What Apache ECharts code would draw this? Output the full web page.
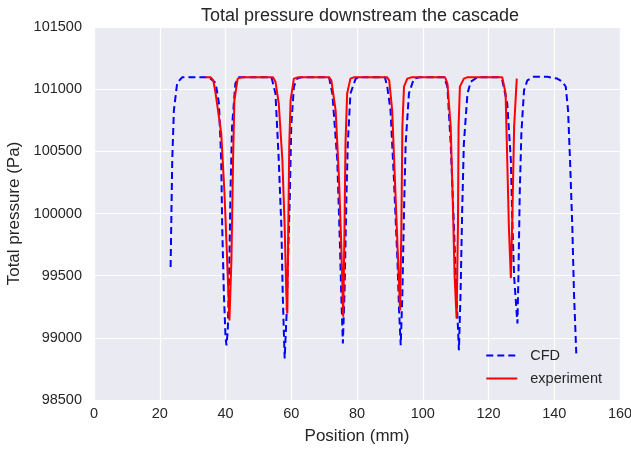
<!DOCTYPE html>
<html>
<head>
<meta charset="utf-8">
<script src="https://cdn.jsdelivr.net/npm/echarts@6/dist/echarts.min.js"></script>
<style>html,body{margin:0;padding:0;background:#fff;}#c{width:631px;height:449px;}</style>
</head>
<body>
<div id="c"></div>
<script>
const titleText = 'Total pressure downstream the cascade';
const xName = 'Position (mm)';
const yName = 'Total pressure (Pa)';
const seriesNames = ['CFD', 'experiment'];

const cfdX = [23.3,23.8,24.3,25.3,26.8,35.0,37.0,38.0,38.7,39.0,39.5,40.0,40.3,40.7,41.2,41.5,42.0,43.0,44.0,
  54.0,55.2,56.2,57.0,57.4,57.7,58.0,58.6,59.0,59.6,60.0,60.8,61.8,63.0,
  71.5,72.5,74.0,74.8,75.2,75.7,76.2,76.8,77.2,78.0,79.6,81.0,
  88.5,89.2,90.2,91.2,92.3,92.8,93.3,93.8,94.3,94.8,95.8,97.3,99.0,
  106.5,107.5,108.5,109.5,110.2,110.7,111.0,111.5,112.0,112.5,113.6,114.6,116.6,
  123.0,124.2,125.7,126.8,127.3,127.8,128.3,128.8,129.1,129.5,130.0,130.8,131.8,133.8,137.9,140.9,142.5,143.5,144.2,144.8,145.5,146.0,146.7];
const cfdY = [99570,100430,100830,101050,101095,101095,101050,100885,100430,99890,99360,99010,98940,99060,99625,100160,100700,101045,101095,
  101095,100965,100430,99890,99360,99090,98835,99200,99625,100160,100700,101020,101085,101095,
  101095,100965,100430,99760,99360,98955,99360,100160,100560,100965,101085,101095,
  101095,101020,100830,100295,99625,99220,98940,99360,100030,100560,100965,101085,101095,
  101095,101020,100560,99890,99360,99090,98900,99360,100030,100560,100965,101060,101095,
  101095,101070,100885,100430,99890,99490,99300,99115,99490,100160,100645,100990,101070,101100,101100,101085,101060,101020,100830,100430,99890,99360,98875];

const expX = [33.9,35.5,36.3,37.0,38.7,39.7,40.5,41.2,41.8,42.3,42.7,43.7,45.0,
  54.5,55.2,56.2,57.3,58.0,58.5,58.8,59.1,59.4,59.8,60.8,62.0,
  71.5,72.2,73.5,74.5,75.2,75.8,76.2,76.5,77.0,78.0,79.0,
  89.2,89.8,90.7,91.7,92.5,93.1,93.5,93.8,94.3,95.3,96.5,
  106.8,107.5,108.5,109.2,109.7,110.3,110.7,110.9,111.3,112.5,113.5,
  124.2,125.2,125.7,126.2,126.8,127.3,127.8,128.6];
const expY = [101095,101095,101070,100965,100645,100160,99625,99140,99625,100430,100910,101085,101095,
  101095,101060,100885,100430,99890,99360,99195,99890,100560,100910,101085,101095,
  101095,101070,100830,100295,99760,99170,99890,100560,100965,101085,101095,
  101095,101070,100830,100160,99625,99220,99890,100700,101020,101085,101095,
  101095,101045,100700,100030,99490,99155,99890,100700,101020,101085,101095,
  101095,100965,100430,99890,99480,100030,100700,101085];

const xMin = 0, xMax = 160, xStep = 20;
const yMin = 98500, yMax = 101500, yStep = 500;

const pair = (xs, ys) => xs.map((x, i) => [x, ys[i]]);
const txt = '#262626';
const font = 'Liberation Sans, Arial, sans-serif';

const chart = echarts.init(document.getElementById('c'), null, {renderer: 'canvas'});
chart.setOption({
  animation: false,
  backgroundColor: '#ffffff',
  title: {
    text: titleText, left: 355, top: 2, textAlign: 'center',
    textStyle: {fontFamily: font, fontSize: 18, fontWeight: 'normal', color: txt}
  },
  grid: {left: 94, right: 11, top: 27, bottom: 49, show: true, backgroundColor: '#EAEAF2', borderWidth: 0,
    containLabel: false, outerBoundsMode: 'none'},
  xAxis: {
    type: 'value', min: xMin, max: xMax, interval: xStep,
    name: xName, nameLocation: 'middle', nameGap: 28,
    nameTextStyle: {fontFamily: font, fontSize: 17, color: txt},
    axisLine: {show: false}, axisTick: {show: false},
    axisLabel: {fontFamily: font, fontSize: 14.5, color: txt, margin: 6},
    splitLine: {show: true, lineStyle: {color: '#ffffff', width: 1.2}}
  },
  yAxis: {
    type: 'value', min: yMin, max: yMax, interval: yStep,
    name: yName, nameLocation: 'middle', nameGap: 64, nameRotate: 90,
    nameTextStyle: {fontFamily: font, fontSize: 17, color: txt},
    axisLine: {show: false}, axisTick: {show: false},
    axisLabel: {fontFamily: font, fontSize: 14.5, color: txt, margin: 12, formatter: v => String(v)},
    splitLine: {show: true, lineStyle: {color: '#ffffff', width: 1.2}}
  },
  legend: {
    right: 24, top: 343, orient: 'vertical', itemWidth: 31, itemHeight: 12, itemGap: 8,
    textStyle: {fontFamily: font, fontSize: 14.5, color: txt, padding: [0, 0, 0, 8]},
    itemStyle: {color: 'rgba(0,0,0,0)', borderWidth: 0, opacity: 0},
    data: seriesNames
  },
  series: [
    {
      name: seriesNames[0], type: 'line', symbol: 'none', data: pair(cfdX, cfdY),
      lineStyle: {color: '#0000ff', width: 2, type: [7, 4]}, itemStyle: {color: '#0000ff'}, z: 2
    },
    {
      name: seriesNames[1], type: 'line', symbol: 'none', data: pair(expX, expY),
      lineStyle: {color: '#ff0000', width: 2}, itemStyle: {color: '#ff0000'}, z: 3
    }
  ]
});
</script>
</body>
</html>
